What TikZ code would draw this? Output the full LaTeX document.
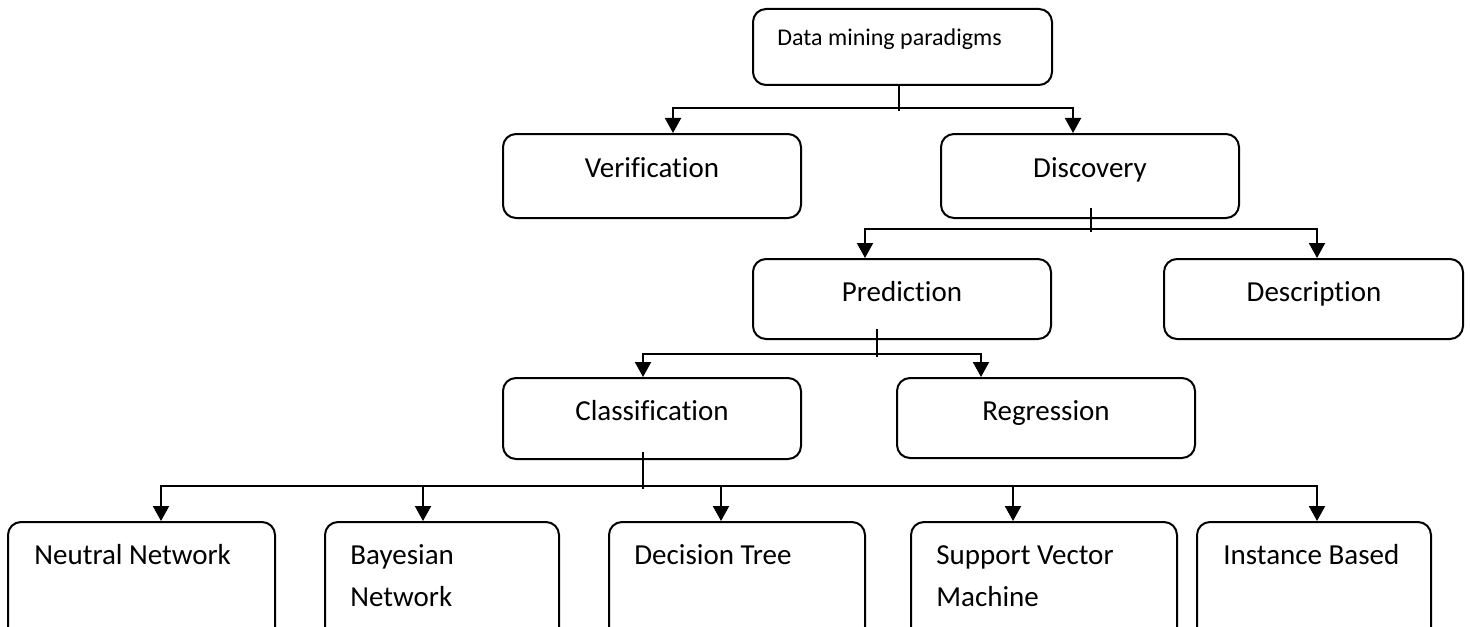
\documentclass[tikz,border=0pt]{standalone}
\usepackage{fontspec}
\setmainfont{Carlito}[Ligatures=NoCommon]
\usetikzlibrary{arrows.meta,fit,calc}

\begin{document}
\begin{tikzpicture}[x=0.5pt,y=-0.5pt,
  box/.style={draw, line width=1pt, rounded corners=6.5pt, inner sep=0pt},
  lbl/.style={inner sep=0pt, font=\fontsize{14.5pt}{21pt}\selectfont},
  toplbl/.style={inner sep=0pt, font=\fontsize{12pt}{14pt}\selectfont},
  bus/.style={line width=1pt},
  stem/.style={line width=0.8pt},
  arr/.style={line width=1pt, -{Triangle[length=7.5pt,width=8pt]}}]

\useasboundingbox (0,0) rectangle (1471,626);
\clip (0,0) rectangle (1471,626);

% ---- boxes ----
\node[box, fit={(753,9) (1052,85)}] (top) {};
\node[box, fit={(503,134) (801,218)}] (ver) {};
\node[box, fit={(941,134) (1239,218)}] (dis) {};
\node[box, fit={(753,259) (1051,339)}] (pre) {};
\node[box, fit={(1164,259) (1463,339)}] (des) {};
\node[box, fit={(503,378) (801,459)}] (cla) {};
\node[box, fit={(897,378) (1195,458)}] (reg) {};
\node[box, fit={(8,522) (275,640)}] (nn) {};
\node[box, fit={(325,522) (559,640)}] (bn) {};
\node[box, fit={(609,522) (865,640)}] (dt) {};
\node[box, fit={(911,522) (1177,640)}] (svm) {};
\node[box, fit={(1197,522) (1431,640)}] (ib) {};

% ---- labels ----
\node[toplbl, anchor=base west] (top-t) at (777,46) {Data mining paradigms};
\node[lbl, anchor=base] (ver-t) at (652,177) {Verification};
\node[lbl, anchor=base] (dis-t) at (1090,177) {Discovery};
\node[lbl, anchor=base] (pre-t) at (902,301) {Prediction};
\node[lbl, anchor=base] (des-t) at (1314,301) {Description};
\node[lbl, anchor=base] (cla-t) at (652,420) {Classification};
\node[lbl, anchor=base] (reg-t) at (1046,420) {Regression};
\node[lbl, anchor=base west] (nn-t) at (34,564) {Neutral Network};
\node[lbl, anchor=base west] (bn-t) at (350,564)
  {\parbox[t]{150pt}{\setlength\baselineskip{21pt}Bayesian\\Network}};
\node[lbl, anchor=base west] (dt-t) at (634,564) {Decision Tree};
\node[lbl, anchor=base west] (svm-t) at (936,564)
  {\parbox[t]{150pt}{\setlength\baselineskip{21pt}Support Vector\\Machine}};
\node[lbl, anchor=base west] (ib-t) at (1223,564) {Instance Based};

% ---- junctions and drop points ----
\coordinate (j0) at (899,108);
\coordinate (j1) at (1091,229);
\coordinate (j2) at (877,354);
\coordinate (j3) at (643,486);
\coordinate (x-ver) at (673,0);
\coordinate (x-dis) at (1073,0);
\coordinate (x-pre) at (865,0);
\coordinate (x-des) at (1317,0);
\coordinate (x-cla) at (643,0);
\coordinate (x-reg) at (981,0);
\coordinate (x-nn) at (161,0);
\coordinate (x-bn) at (423,0);
\coordinate (x-dt) at (721,0);
\coordinate (x-svm) at (1013,0);
\coordinate (x-ib) at (1317,0);

% ---- level 1 ----
\draw[stem] (top.south -| j0) -- ([yshift=-1.5pt]j0);
\draw[arr] (j0) -| (ver.north -| x-ver);
\draw[arr] (j0) -| (dis.north -| x-dis);

% ---- level 2 ----
\draw[stem] ([yshift=5.5pt]dis.south -| j1) -- ([yshift=-1.5pt]j1);
\draw[arr] (j1) -| (pre.north -| x-pre);
\draw[arr] (j1) -| (des.north -| x-des);

% ---- level 3 ----
\draw[stem] ([yshift=5.5pt]pre.south -| j2) -- ([yshift=-1.5pt]j2);
\draw[arr] (j2) -| (cla.north -| x-cla);
\draw[arr] (j2) -| (reg.north -| x-reg);

% ---- level 4 ----
\draw[stem] ([yshift=4pt]cla.south -| j3) -- ([yshift=-1.5pt]j3);
\draw[arr] (j3) -| (nn.north -| x-nn);
\draw[arr] (j3) -| (bn.north -| x-bn);
\draw[arr] (j3) -| (dt.north -| x-dt);
\draw[arr] (j3) -| (svm.north -| x-svm);
\draw[arr] (j3) -| (ib.north -| x-ib);
\end{tikzpicture}
\end{document}
